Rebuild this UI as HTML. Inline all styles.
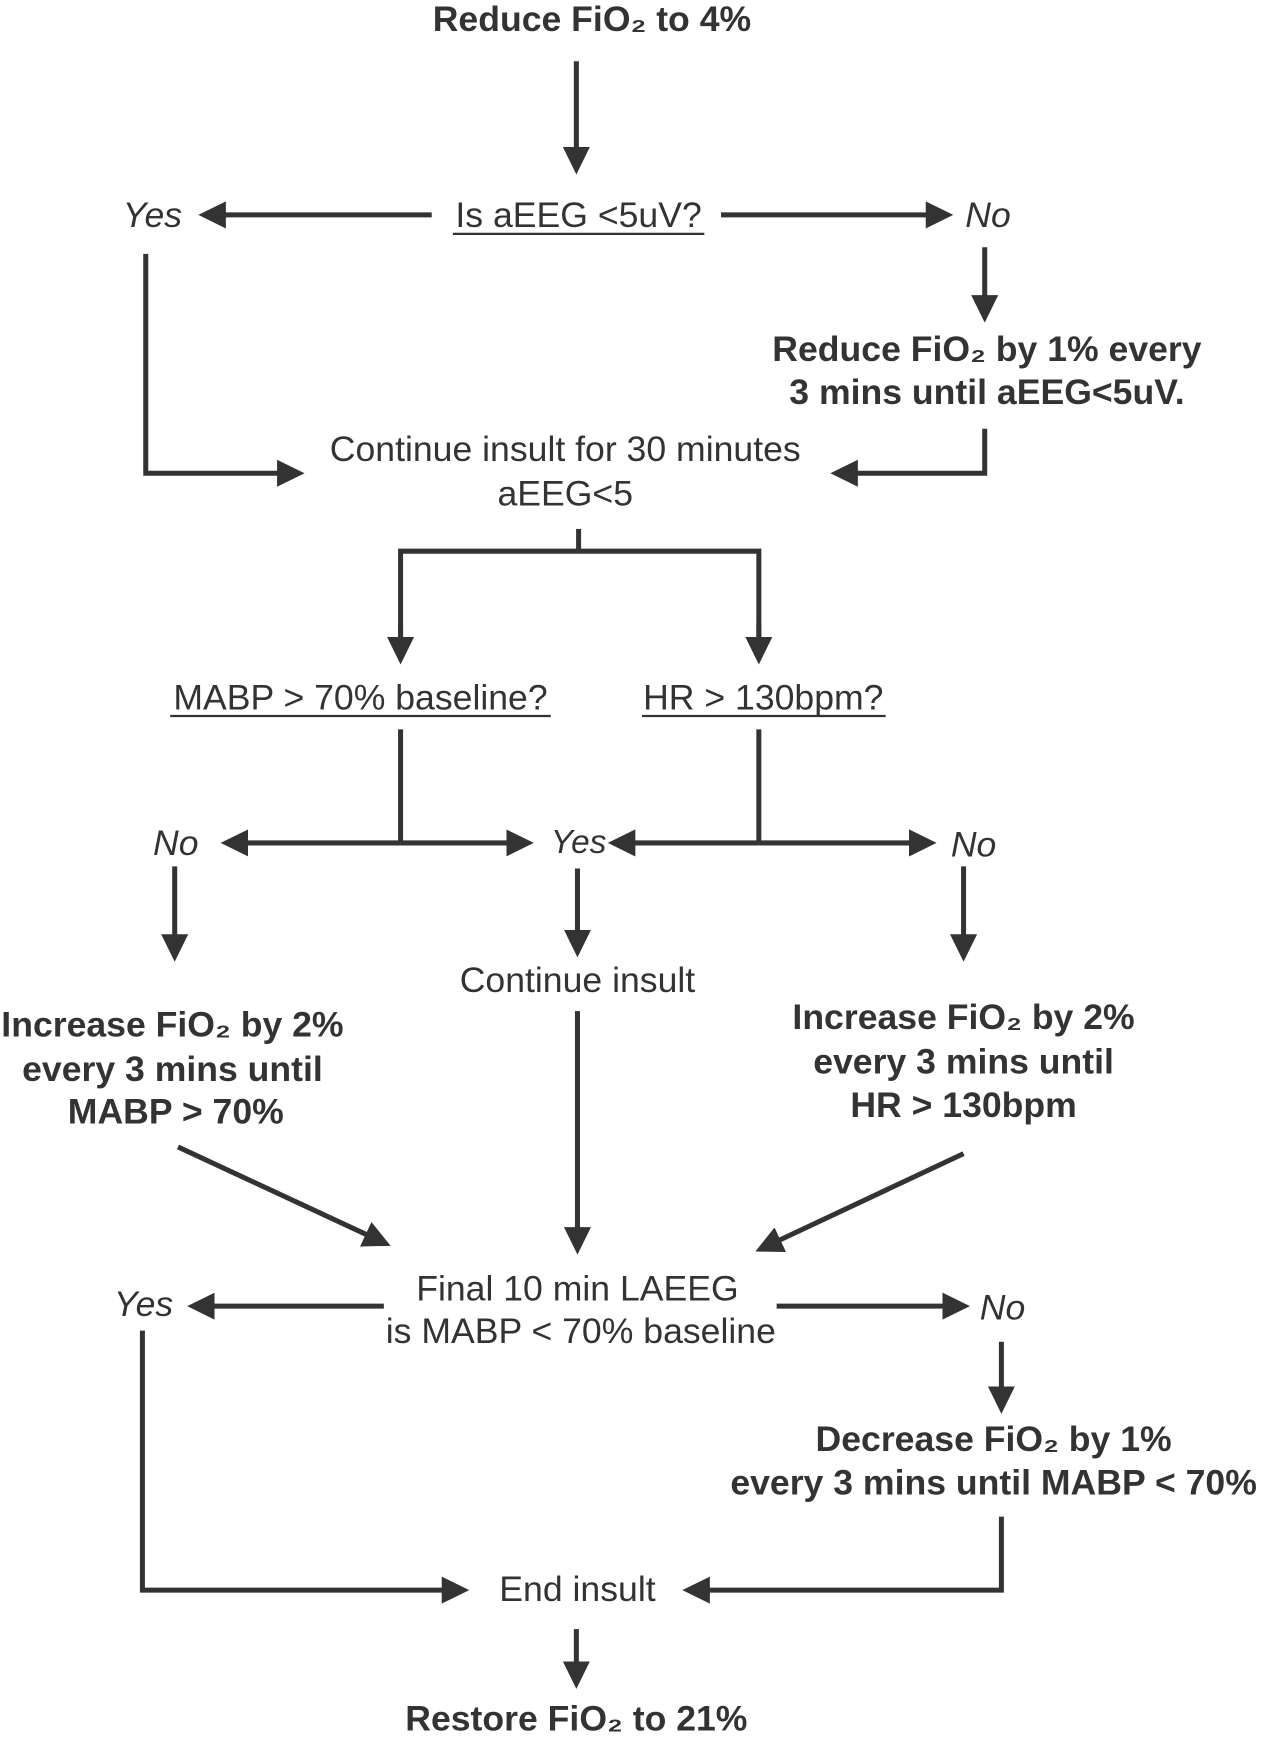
<!DOCTYPE html>
<html><head><meta charset="utf-8"><style>
html,body{margin:0;padding:0;background:#fff;}
svg{display:block;}
text{font-family:"Liberation Sans",Arial,sans-serif;font-size:32px;fill:#333;text-anchor:middle;}
.b{font-weight:bold;}
.i{font-style:italic;}
line,polyline{stroke:#333;stroke-width:4.5;fill:none;}
</style></head><body>
<svg width="1274" height="1746" viewBox="0 0 1145 1568" preserveAspectRatio="none">
<defs><marker id="a" markerWidth="6" markerHeight="6" refX="4" refY="3" orient="auto" markerUnits="strokeWidth"><path d="M0,0.3 L5.5,3 L0,5.7 Z" fill="#333"/></marker></defs>
<text class="b" x="532" y="28">Reduce FiO₂ to 4%</text>
<line x1="518" y1="55" x2="518" y2="150" marker-end="url(#a)"/>
<text x="520" y="204">Is aEEG &lt;5uV?</text>
<line x1="407" y1="210" x2="633" y2="210" style="stroke-width:2"/>
<line x1="388" y1="193" x2="185" y2="193" marker-end="url(#a)"/>
<text class="i" x="137" y="204">Yes</text>
<line x1="648" y1="193" x2="850" y2="193" marker-end="url(#a)"/>
<text class="i" x="888" y="204">No</text>
<line x1="885" y1="222" x2="885" y2="283" marker-end="url(#a)"/>
<text class="b" x="887" y="324">Reduce FiO₂ by 1% every</text>
<text class="b" x="887" y="363">3 mins until aEEG&lt;5uV.</text>
<polyline points="131,228 131,425 267,425" marker-end="url(#a)"/>
<polyline points="885,385 885,425 753,425" marker-end="url(#a)"/>
<text x="508" y="414">Continue insult for 30 minutes</text>
<text x="508" y="454">aEEG&lt;5</text>
<line x1="520" y1="475" x2="520" y2="495"/>
<polyline points="360,590 360,495 682,495 682,590"/>
<line x1="360" y1="560" x2="360" y2="590" marker-end="url(#a)"/>
<line x1="682" y1="560" x2="682" y2="590" marker-end="url(#a)"/>
<text x="324" y="637">MABP &gt; 70% baseline?</text>
<line x1="153" y1="643" x2="495" y2="643" style="stroke-width:2"/>
<text x="686" y="637">HR &gt; 130bpm?</text>
<line x1="577" y1="643" x2="796" y2="643" style="stroke-width:2"/>
<line x1="360" y1="655" x2="360" y2="757"/>
<line x1="682" y1="655" x2="682" y2="757"/>
<line x1="360" y1="757" x2="205" y2="757" marker-end="url(#a)"/>
<line x1="360" y1="757" x2="473" y2="757" marker-end="url(#a)"/>
<line x1="682" y1="757" x2="553" y2="757" marker-end="url(#a)"/>
<line x1="682" y1="757" x2="835" y2="757" marker-end="url(#a)"/>
<text class="i" x="158" y="768">No</text>
<text class="i" x="520" y="766" style="font-size:30px">Yes</text>
<text class="i" x="875" y="769">No</text>
<line x1="157" y1="778" x2="157" y2="857" marker-end="url(#a)"/>
<line x1="519" y1="780" x2="519" y2="853" marker-end="url(#a)"/>
<line x1="866" y1="778" x2="866" y2="857" marker-end="url(#a)"/>
<text x="519" y="891">Continue insult</text>
<text class="b" x="155" y="931">Increase FiO₂ by 2%</text>
<text class="b" x="155" y="971">every 3 mins until</text>
<text class="b" x="158" y="1009">MABP &gt; 70%</text>
<text class="b" x="866" y="924">Increase FiO₂ by 2%</text>
<text class="b" x="866" y="964">every 3 mins until</text>
<text class="b" x="866" y="1003">HR &gt; 130bpm</text>
<line x1="160" y1="1030" x2="345" y2="1116" marker-end="url(#a)"/>
<line x1="866" y1="1036" x2="685" y2="1121" marker-end="url(#a)"/>
<line x1="519" y1="908" x2="519" y2="1120" marker-end="url(#a)"/>
<text x="519" y="1168">Final 10 min LAEEG</text>
<text x="522" y="1206">is MABP &lt; 70% baseline</text>
<line x1="345" y1="1173" x2="175" y2="1173" marker-end="url(#a)"/>
<text class="i" x="129" y="1182">Yes</text>
<line x1="698" y1="1173" x2="865" y2="1173" marker-end="url(#a)"/>
<text class="i" x="901" y="1185">No</text>
<line x1="900" y1="1205" x2="900" y2="1263" marker-end="url(#a)"/>
<text class="b" x="893" y="1303">Decrease FiO₂ by 1%</text>
<text class="b" x="893" y="1342">every 3 mins until MABP &lt; 70%</text>
<polyline points="128,1195 128,1428 415,1428" marker-end="url(#a)"/>
<polyline points="900,1362 900,1428 620,1428" marker-end="url(#a)"/>
<text x="519" y="1438">End insult</text>
<line x1="518" y1="1463" x2="518" y2="1510" marker-end="url(#a)"/>
<text class="b" x="518" y="1554">Restore FiO₂ to 21%</text>
</svg>
</body></html>
